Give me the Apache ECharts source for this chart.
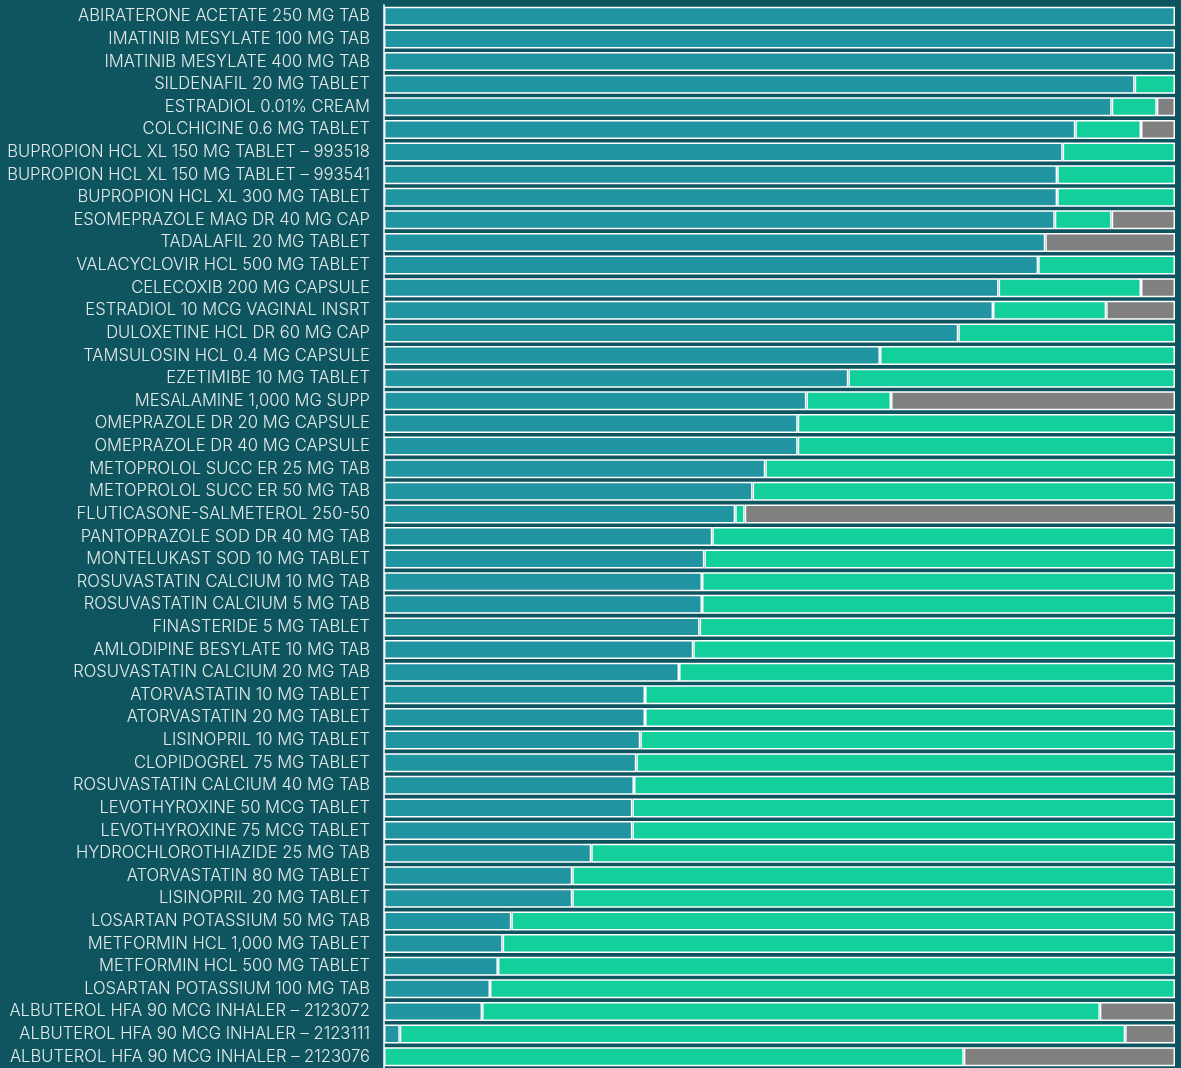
<!DOCTYPE html>
<html>
<head>
<meta charset="utf-8">
<script src="https://cdn.jsdelivr.net/npm/echarts@6/dist/echarts.min.js"></script>
<style>
  html, body { margin: 0; padding: 0; background: #0f5560; }
  #chart { width: 1181px; height: 1068px; }
</style>
</head>
<body>
<div id="chart"></div>
<script>
// drug names, top to bottom
const drugs = [
  'ABIRATERONE ACETATE 250 MG TAB',
  'IMATINIB MESYLATE 100 MG TAB',
  'IMATINIB MESYLATE 400 MG TAB',
  'SILDENAFIL 20 MG TABLET',
  'ESTRADIOL 0.01% CREAM',
  'COLCHICINE 0.6 MG TABLET',
  'BUPROPION HCL XL 150 MG TABLET – 993518',
  'BUPROPION HCL XL 150 MG TABLET – 993541',
  'BUPROPION HCL XL 300 MG TABLET',
  'ESOMEPRAZOLE MAG DR 40 MG CAP',
  'TADALAFIL 20 MG TABLET',
  'VALACYCLOVIR HCL 500 MG TABLET',
  'CELECOXIB 200 MG CAPSULE',
  'ESTRADIOL 10 MCG VAGINAL INSRT',
  'DULOXETINE HCL DR 60 MG CAP',
  'TAMSULOSIN HCL 0.4 MG CAPSULE',
  'EZETIMIBE 10 MG TABLET',
  'MESALAMINE 1,000 MG SUPP',
  'OMEPRAZOLE DR 20 MG CAPSULE',
  'OMEPRAZOLE DR 40 MG CAPSULE',
  'METOPROLOL SUCC ER 25 MG TAB',
  'METOPROLOL SUCC ER 50 MG TAB',
  'FLUTICASONE-SALMETEROL 250-50',
  'PANTOPRAZOLE SOD DR 40 MG TAB',
  'MONTELUKAST SOD 10 MG TABLET',
  'ROSUVASTATIN CALCIUM 10 MG TAB',
  'ROSUVASTATIN CALCIUM 5 MG TAB',
  'FINASTERIDE 5 MG TABLET',
  'AMLODIPINE BESYLATE 10 MG TAB',
  'ROSUVASTATIN CALCIUM 20 MG TAB',
  'ATORVASTATIN 10 MG TABLET',
  'ATORVASTATIN 20 MG TABLET',
  'LISINOPRIL 10 MG TABLET',
  'CLOPIDOGREL 75 MG TABLET',
  'ROSUVASTATIN CALCIUM 40 MG TAB',
  'LEVOTHYROXINE 50 MCG TABLET',
  'LEVOTHYROXINE 75 MCG TABLET',
  'HYDROCHLOROTHIAZIDE 25 MG TAB',
  'ATORVASTATIN 80 MG TABLET',
  'LISINOPRIL 20 MG TABLET',
  'LOSARTAN POTASSIUM 50 MG TAB',
  'METFORMIN HCL 1,000 MG TABLET',
  'METFORMIN HCL 500 MG TABLET',
  'LOSARTAN POTASSIUM 100 MG TAB',
  'ALBUTEROL HFA 90 MCG INHALER – 2123072',
  'ALBUTEROL HFA 90 MCG INHALER – 2123111',
  'ALBUTEROL HFA 90 MCG INHALER – 2123076'
];

// share of each drug (%), same order as drugs
const tealShare = [100, 100, 100, 94.9, 92.0, 87.4, 85.8, 85.1, 85.1, 84.8,
  83.6, 82.7, 77.7, 77.0, 72.6, 62.7, 58.7, 53.4, 52.3, 52.3,
  48.2, 46.6, 44.4, 41.5, 40.5, 40.2, 40.2, 39.9, 39.1, 37.3,
  33.0, 33.0, 32.4, 31.9, 31.6, 31.4, 31.4, 26.2, 23.8, 23.8,
  16.1, 15.0, 14.4, 13.4, 12.4, 2.0, 0];
const greenShare = [0, 0, 0, 5.1, 5.7, 8.3, 14.2, 14.9, 14.9, 7.2,
  0, 17.3, 18.0, 14.3, 27.4, 37.3, 41.3, 10.7, 47.7, 47.7,
  51.8, 53.4, 1.2, 58.5, 59.5, 59.8, 59.8, 60.1, 60.9, 62.7,
  67.0, 67.0, 67.6, 68.1, 68.4, 68.6, 68.6, 73.8, 76.2, 76.2,
  83.9, 85.0, 85.6, 86.6, 78.1, 91.7, 73.3];
const grayShare = [0, 0, 0, 0, 2.3, 4.3, 0, 0, 0, 8.0,
  16.4, 0, 4.3, 8.7, 0, 0, 0, 35.9, 0, 0,
  0, 0, 54.4, 0, 0, 0, 0, 0, 0, 0,
  0, 0, 0, 0, 0, 0, 0, 0, 0, 0,
  0, 0, 0, 0, 9.5, 6.3, 26.7];

const chart = echarts.init(document.getElementById('chart'));

function barSeries(name, data, color) {
  return {
    name: name,
    type: 'bar',
    stack: 'total',
    barCategoryGap: '16%',
    data: data.map(v => v === 0 ? null : v),
    itemStyle: { color: color, borderColor: '#ffffff', borderWidth: 1.5 },
    emphasis: { disabled: true }
  };
}

const option = {
  backgroundColor: '#0f5560',
  animation: false,
  grid: { top: 5, bottom: 0, left: 384, right: 6, outerBoundsMode: 'none', containLabel: false },
  xAxis: {
    type: 'value',
    min: 0,
    max: 100,
    show: false
  },
  yAxis: {
    type: 'category',
    inverse: true,
    data: drugs,
    axisLine: { show: true, lineStyle: { color: '#c8d4d4', width: 2 } },
    axisTick: { show: false },
    axisLabel: {
      color: '#e2eaea',
      fontFamily: 'Inter',
      fontWeight: 300,
      fontSize: 16.6,
      margin: 14
    }
  },
  series: [
    barSeries('teal', tealShare, '#2095a1'),
    barSeries('green', greenShare, '#12cf9c'),
    barSeries('gray', grayShare, '#808080')
  ]
};

chart.setOption(option);
</script>
</body>
</html>
